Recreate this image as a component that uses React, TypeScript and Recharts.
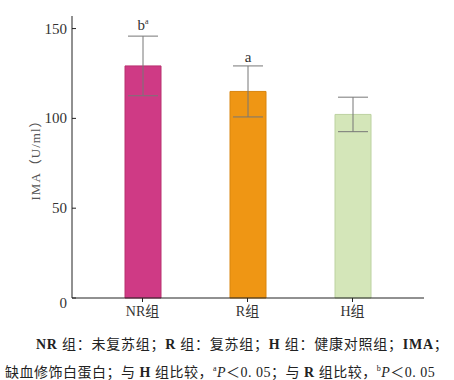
import React from 'react';
import { ComposedChart, Bar, XAxis, YAxis, ErrorBar, Cell, LabelList } from 'recharts';

const groups = ['NR组', 'R组', 'H组'];
const imaMean = [129.2, 115.0, 102.2];
const imaSd = [16.6, 14.2, 9.6];
const marks = ['ba', 'a', ''];
const barColors = ['#cf3a85', '#ef9614', '#d4e6b9'];
const barEdges = ['#b8306f', '#d8850f', '#bcd2a0'];
const yTicks = [0, 50, 100, 150];

const serif = '"Liberation Serif", "DejaVu Serif", serif';
const cjk = '"Liberation Serif", "Noto Sans CJK SC", serif';

const chartData = groups.map((g, i) => ({
  group: g,
  ima: imaMean[i],
  sd: imaSd[i],
  mark: marks[i],
}));

// significance letters, sitting just above the error bar cap
function MarkLabel(props: any) {
  const { x, y, width, height, index } = props;
  const mark = marks[index];
  if (!mark) return null;
  const perUnit = height / imaMean[index];
  const capY = y - imaSd[index] * perUnit;
  const cx = x + width / 2;
  if (mark.length === 2) {
    return (
      <text x={cx} y={capY - 6} textAnchor="middle" fontFamily={serif} fontSize={15} fill="#333">
        <tspan>{mark[0]}</tspan>
        <tspan dy={-6} fontSize={8}>{mark[1]}</tspan>
      </text>
    );
  }
  return (
    <text x={cx} y={capY - 4} textAnchor="middle" fontFamily={serif} fontSize={15} fill="#333">
      {mark}
    </text>
  );
}

// y tick: the zero sits a little below the axis like the original
function YTick(props: any) {
  const { x, y, payload } = props;
  const dy = payload.value === 0 ? 10 : 5;
  return (
    <text x={x} y={y + dy} textAnchor="end" fontFamily={serif} fontSize={15} fill="#333">
      {payload.value}
    </text>
  );
}

export default function App() {
  return (
    <div style={{ position: 'absolute', left: 0, top: 0, width: 454, height: 380, background: '#fff' }}>
      <ComposedChart
        width={454}
        height={330}
        data={chartData}
        margin={{ top: 16, right: 30, left: 0, bottom: 2 }}
      >
        <XAxis
          dataKey="group"
          height={30}
          padding={{ left: 18, right: 19 }}
          stroke="#222"
          tickSize={4}
          tickMargin={4}
          tick={{ fill: '#333', fontSize: 14, fontFamily: cjk }}
        />
        <YAxis
          width={72}
          domain={[0, 157]}
          ticks={yTicks}
          stroke="#222"
          tickSize={-4}
          tickMargin={9}
          tick={<YTick />}
          label={{
            value: 'IMA（U/ml）',
            angle: -90,
            position: 'insideLeft',
            offset: 35,
            style: { textAnchor: 'middle', fill: '#555', fontSize: 13, fontFamily: cjk, letterSpacing: 1 },
          }}
        />
        <Bar dataKey="ima" barSize={36} isAnimationActive={false}>
          {chartData.map((d, i) => (
            <Cell key={d.group} fill={barColors[i]} stroke={barEdges[i]} strokeWidth={1} />
          ))}
          <ErrorBar dataKey="sd" width={15} stroke="#777" strokeWidth={1} />
          <LabelList dataKey="mark" content={MarkLabel} />
        </Bar>
      </ComposedChart>
      <div
        style={{
          position: 'absolute',
          left: 36,
          top: 333,
          fontFamily: cjk,
          fontSize: 14,
          letterSpacing: 0.75,
          color: '#222',
          whiteSpace: 'nowrap',
        }}
      >
        <b>NR</b> 组：未复苏组；<b>R</b> 组：复苏组；<b>H</b> 组：健康对照组；<b>IMA</b>；
      </div>
      <div
        style={{
          position: 'absolute',
          left: 5,
          top: 361,
          fontFamily: cjk,
          fontSize: 14,
          letterSpacing: 0.5,
          color: '#222',
          whiteSpace: 'nowrap',
        }}
      >
        缺血修饰白蛋白；与 <b>H</b> 组比较，<sup style={{ fontSize: 8 }}>a</sup>
        <i>P</i>＜0. 05；与 <b>R</b> 组比较，<sup style={{ fontSize: 8 }}>b</sup>
        <i>P</i>＜0. 05
      </div>
    </div>
  );
}
